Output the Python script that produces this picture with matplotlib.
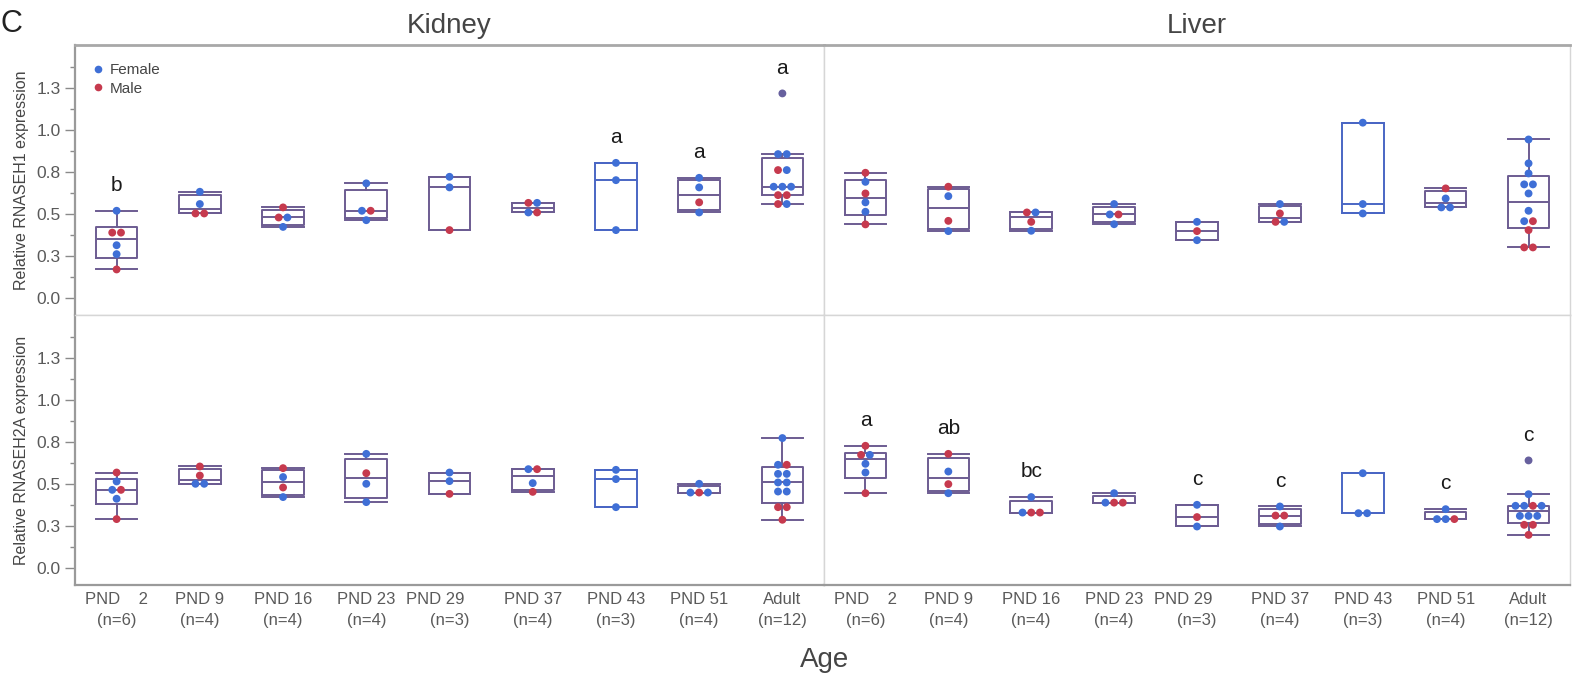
from __future__ import annotations

import matplotlib

matplotlib.use("Agg")
import matplotlib.pyplot as plt
import numpy as np
from matplotlib import font_manager
from matplotlib.lines import Line2D

AVAILABLE = {f.name for f in font_manager.fontManager.ttflist}
NARROW = "Liberation Sans Narrow" if "Liberation Sans Narrow" in AVAILABLE else "Liberation Sans"
SANS = "Liberation Sans"
SMALL = 13 if NARROW == "Liberation Sans Narrow" else 11.5

AGES = ["PND    2\n(n=6)", "PND 9\n(n=4)", "PND 16\n(n=4)", "PND 23\n(n=4)", "PND 29      \n(n=3)",
        "PND 37\n(n=4)", "PND 43\n(n=3)", "PND 51\n(n=4)", "Adult\n(n=12)"]
YTICKS = [0.0, 0.25, 0.5, 0.75, 1.0, 1.25]
YTICK_LABELS = ["0.0", "0.3", "0.5", "0.8", "1.0", "1.3"]

# sex codes: F = female, M = male, U = overlapping / unresolved colour
KIDNEY_H1 = [
    [0.52, 0.39, 0.39, 0.315, 0.262, 0.171],
    [0.633, 0.56, 0.504, 0.504],
    [0.54, 0.48, 0.48, 0.424],
    [0.683, 0.52, 0.52, 0.464],
    [0.722, 0.659, 0.405],
    [0.567, 0.567, 0.51, 0.51],
    [0.805, 0.702, 0.405],
    [0.716, 0.659, 0.57, 0.51],
    [1.218, 0.857, 0.857, 0.762, 0.762, 0.663, 0.663, 0.663, 0.613, 0.613, 0.56, 0.56],
]
KIDNEY_H1_SEX = ["FMMFFM", "FFMM", "MMFF", "FFMF", "FFM", "MFFM", "FFF", "FFMF", "UFFMFFFFMMMF"]
KIDNEY_H1_LETTERS = ["b", "", "", "", "", "", "a", "a", "a"]

LIVER_H1 = [
    [0.746, 0.692, 0.623, 0.57, 0.514, 0.439],
    [0.663, 0.607, 0.46, 0.399],
    [0.51, 0.51, 0.454, 0.401],
    [0.56, 0.498, 0.498, 0.44],
    [0.454, 0.399, 0.345],
    [0.56, 0.504, 0.454, 0.454],
    [1.044, 0.56, 0.504],
    [0.653, 0.593, 0.54, 0.54],
    [0.944, 0.802, 0.742, 0.677, 0.677, 0.623, 0.52, 0.458, 0.458, 0.405, 0.302, 0.302],
]
LIVER_H1_SEX = ["MFMFFM", "MFMF", "MFMF", "FFMF", "FMF", "FMMF", "FFF", "MFFF", "FFFFFFFFMMMM"]
LIVER_H1_LETTERS = [""] * 9

KIDNEY_H2A = [
    [0.569, 0.516, 0.466, 0.466, 0.413, 0.292],
    [0.605, 0.551, 0.502, 0.502],
    [0.595, 0.542, 0.48, 0.423],
    [0.68, 0.565, 0.502, 0.393],
    [0.569, 0.518, 0.442],
    [0.589, 0.589, 0.506, 0.454],
    [0.585, 0.53, 0.363],
    [0.502, 0.45, 0.45, 0.45],
    [0.774, 0.615, 0.615, 0.561, 0.561, 0.51, 0.51, 0.456, 0.456, 0.363, 0.363, 0.288],
]
KIDNEY_H2A_SEX = ["MFFMFM", "MMFF", "MFMF", "FMFF", "FFM", "FMFM", "FFF", "FFMF", "FFMFFFFFFMMM"]
KIDNEY_H2A_LETTERS = [""] * 9

LIVER_H2A = [
    [0.728, 0.674, 0.674, 0.621, 0.569, 0.446],
    [0.68, 0.575, 0.5, 0.446],
    [0.423, 0.331, 0.331, 0.331],
    [0.446, 0.39, 0.39, 0.39],
    [0.377, 0.304, 0.248],
    [0.367, 0.313, 0.313, 0.248],
    [0.565, 0.327, 0.327],
    [0.351, 0.292, 0.292, 0.292],
    [0.641, 0.44, 0.371, 0.371, 0.371, 0.371, 0.311, 0.311, 0.311, 0.258, 0.258, 0.198],
]
LIVER_H2A_SEX = ["MMFFFM", "MFMF", "FFMM", "FFMM", "FMF", "FMMF", "FFF", "FFFM", "UFFFMFFFFMMM"]
LIVER_H2A_LETTERS = ["a", "ab", "bc", "", "c", "c", "", "c", "c"]

COLORS = {
    "F": "#3f6fd6",
    "M": "#c63a4e",
    "U": "#67609e",
    "box_mixed": "#6c5c92",
    "box_female": "#4a66c4",
    "frame": "#9a9a9a",
    "divider": "#d6d6d6",
    "text": "#454545",
    "tick": "#5a5a5a",
}


def spread(values: np.ndarray) -> np.ndarray:
    # side-by-side layout for points sharing the same level
    offsets = np.zeros(len(values))
    start = 0
    while start < len(values):
        end = start + 1
        while end < len(values) and abs(values[end] - values[start]) < 0.012:
            end += 1
        k = end - start
        offsets[start:end] = (np.arange(k) - (k - 1) / 2) * 0.105
        start = end
    return offsets


def draw_panel(ax, groups, sexes, letters) -> None:
    for i, (vals, sx) in enumerate(zip(groups, sexes)):
        v = np.asarray(vals, dtype=float)
        q1, med, q3 = np.percentile(v, [25, 50, 75], method="weibull")
        iqr = q3 - q1
        lo = v[v >= q1 - 1.5 * iqr].min()
        hi = v[v <= q3 + 1.5 * iqr].max()
        col = COLORS["box_female"] if set(sx) == {"F"} else COLORS["box_mixed"]
        props = dict(color=col, linewidth=1.4)
        ax.bxp(
            [dict(med=med, q1=q1, q3=q3, whislo=lo, whishi=hi, fliers=[])],
            positions=[i], widths=0.5, capwidths=0.5, showfliers=False,
            boxprops=props, medianprops=props, whiskerprops=props, capprops=props,
            manage_ticks=False,
        )
        ax.scatter(i + spread(v), v, s=32, c=[COLORS[s] for s in sx], linewidths=0, zorder=3)
        if letters[i]:
            ax.text(i, v.max() + 0.15, letters[i], ha="center", va="center",
                    fontsize=15, family=SANS, color="#1a1a1a")


def style_axes(ax, left: bool, top: bool) -> None:
    ax.set_xlim(-0.5, 8.5)
    ax.set_ylim(-0.1, 1.506)
    for sp in ax.spines.values():
        sp.set_color(COLORS["divider"])
        sp.set_linewidth(1.0)
    if left:
        ax.spines["left"].set_color(COLORS["frame"])
        ax.spines["left"].set_linewidth(1.6)
        ax.set_yticks(YTICKS, YTICK_LABELS)
        ax.set_yticks([0.125, 0.375, 0.625, 0.875, 1.125, 1.375], minor=True)
        ax.tick_params(axis="y", which="major", length=7, width=1, color="#8a8a8a",
                       labelsize=SMALL + 1, labelcolor=COLORS["tick"])
        ax.tick_params(axis="y", which="minor", length=3.5, width=1, color="#8a8a8a")
        for lab in ax.get_yticklabels():
            lab.set_family(NARROW)
    else:
        ax.set_yticks([])
        ax.tick_params(axis="y", which="both", left=False, labelleft=False)
    if top:
        ax.spines["top"].set_color("#a8a8a8")
        ax.spines["top"].set_linewidth(2.0)
        ax.set_xticks([])
    else:
        ax.spines["bottom"].set_color(COLORS["frame"])
        ax.spines["bottom"].set_linewidth(1.6)
        ax.set_xticks(np.arange(len(AGES)), AGES)
        ax.tick_params(axis="x", length=0, pad=5, labelsize=SMALL + 0.5, labelcolor=COLORS["tick"])
        for lab in ax.get_xticklabels():
            lab.set_family(NARROW)
            lab.set_linespacing(1.5)


def main() -> None:
    fig = plt.figure(figsize=(15.73, 6.79), dpi=100)
    left, mid_x, right = 75 / 1573, 824 / 1573, 1570 / 1573
    top, mid_y, bottom = 1 - 45 / 679, 1 - 315 / 679, 1 - 585 / 679
    w1, w2 = mid_x - left, right - mid_x
    h1, h2 = top - mid_y, mid_y - bottom

    ax_kt = fig.add_axes([left, mid_y, w1, h1])
    ax_lt = fig.add_axes([mid_x, mid_y, w2, h1])
    ax_kb = fig.add_axes([left, bottom, w1, h2])
    ax_lb = fig.add_axes([mid_x, bottom, w2, h2])

    draw_panel(ax_kt, KIDNEY_H1, KIDNEY_H1_SEX, KIDNEY_H1_LETTERS)
    draw_panel(ax_lt, LIVER_H1, LIVER_H1_SEX, LIVER_H1_LETTERS)
    draw_panel(ax_kb, KIDNEY_H2A, KIDNEY_H2A_SEX, KIDNEY_H2A_LETTERS)
    draw_panel(ax_lb, LIVER_H2A, LIVER_H2A_SEX, LIVER_H2A_LETTERS)

    style_axes(ax_kt, left=True, top=True)
    style_axes(ax_lt, left=False, top=True)
    style_axes(ax_kb, left=True, top=False)
    style_axes(ax_lb, left=False, top=False)

    ax_kt.set_ylabel("Relative RNASEH1 expression", fontsize=SMALL, family=NARROW,
                     color=COLORS["text"], labelpad=5)
    ax_kb.set_ylabel("Relative RNASEH2A expression", fontsize=SMALL, family=NARROW,
                     color=COLORS["text"], labelpad=5)

    for ax, name in [(ax_kt, "Kidney"), (ax_lt, "Liver")]:
        ax.text(0.5, 1.07, name, transform=ax.transAxes, ha="center", va="center",
                fontsize=20, family=SANS, color=COLORS["text"])
    fig.text(825 / 1573, 1 - 660 / 679, "Age", ha="center", va="center",
             fontsize=20, family=SANS, color=COLORS["text"])
    fig.text(1 / 1573, 1 - 24 / 679, "C", ha="left", va="center",
             fontsize=22, family=SANS, color="#222222")

    handles = [
        Line2D([], [], ls="none", marker="o", ms=5.5, mec="none", mfc=COLORS["F"], label="Female"),
        Line2D([], [], ls="none", marker="o", ms=5.5, mec="none", mfc=COLORS["M"], label="Male"),
    ]
    leg = ax_kt.legend(handles=handles, loc="upper left", bbox_to_anchor=(0.0, 0.99),
                       frameon=False, handlelength=1.0, handletextpad=0.3, labelspacing=0.3,
                       borderaxespad=0.6, prop={"family": NARROW, "size": 11})
    for t in leg.get_texts():
        t.set_color(COLORS["text"])

    fig.savefig("out.png", dpi=100)
    plt.close(fig)


if __name__ == "__main__":
    main()
